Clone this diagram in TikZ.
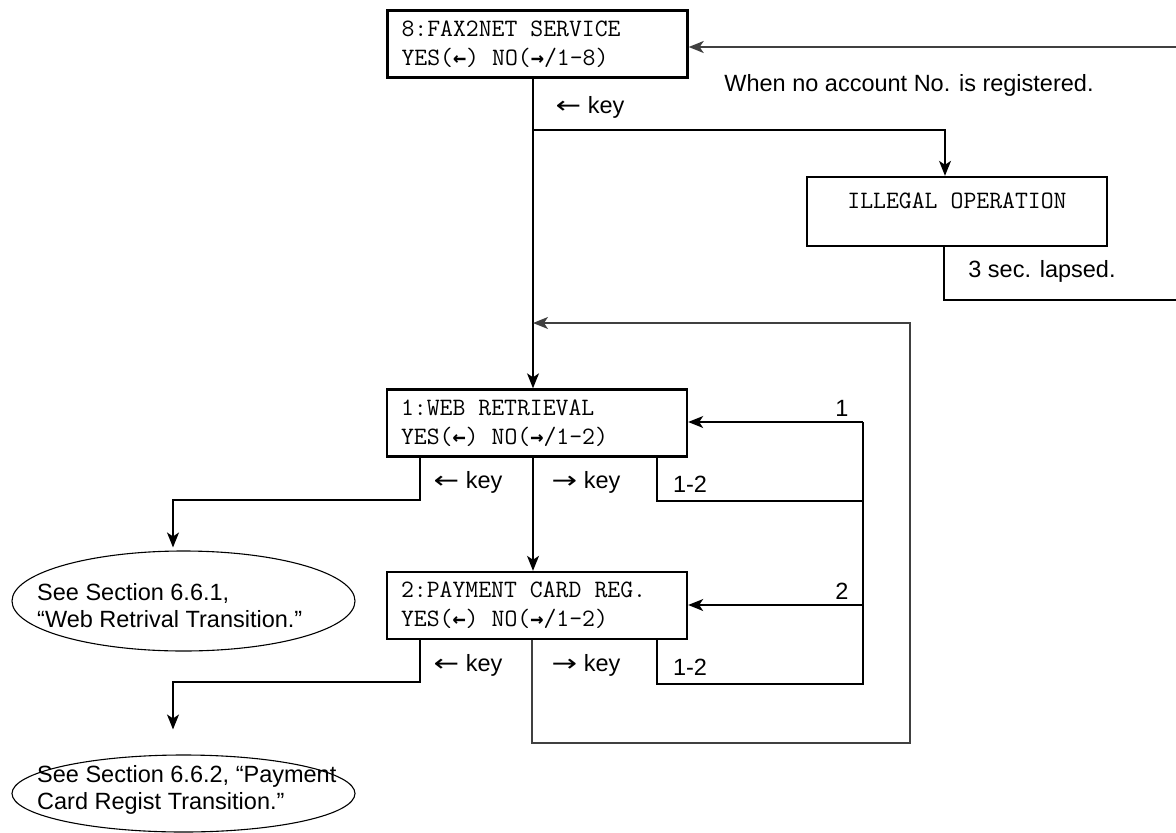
\documentclass[tikz,border=0pt]{standalone}
\usepackage{fontspec}
\setmainfont{Liberation Sans}
\newfontfamily\arrf{DejaVu Sans Mono}
\newfontfamily\arrs{DejaVu Sans}
\usetikzlibrary{arrows.meta,shapes.geometric}
\newcommand{\mla}{{\arrf\bfseries\fontsize{22}{29}\selectfont ←}}
\newcommand{\mra}{{\arrf\bfseries\fontsize{22}{29}\selectfont →}}
\newcommand{\sla}{\scalebox{1.3}[1]{\arrs ←}}
\newcommand{\sra}{\scalebox{1.3}[1]{\arrs →}}
\newcommand{\SP}{\hbox to 0.525em{}}
\tikzset{
  lcd/.style={draw, line width=2.4pt, rectangle, inner xsep=14pt, inner ysep=0pt,
    text width=272pt, align=left, minimum height=67pt,
    font=\ttfamily\fontsize{25}{29}\selectfont},
  conn/.style={line width=1.2pt},
  outer/.style={line width=1.6pt, draw=black!75},
  arr/.style={-{Stealth[length=15pt,width=12pt,inset=4pt]}},
  lbl/.style={inner sep=0pt, font=\fontsize{23.5}{27}\selectfont},
  oval/.style={draw, ellipse, line width=1.1pt, inner sep=0pt},
}
\begin{document}
\begin{tikzpicture}[x=1pt,y=-1pt]
\useasboundingbox (0,0) rectangle (1176,833);
% boxes
\node[lcd] (top) at (537.5,44) {8:FAX2NET\SP SERVICE\\YES(\mla)\SP NO(\mra/1-8)};
\node[lcd, text width=300pt, inner xsep=0pt, align=center, minimum width=300pt, minimum height=69pt]
  (ill) at (957,211.5) {\raisebox{3pt}[0pt][0pt]{ILLEGAL\SP OPERATION}};
\node[lcd] (web) at (537,423) {1:WEB\SP RETRIEVAL\\YES(\mla)\SP NO(\mra/1-2)};
\node[lcd] (pay) at (537,605.5) {2:PAYMENT\SP CARD\SP REG.\\YES(\mla)\SP NO(\mra/1-2)};
% ellipses
\node[oval, minimum width=343pt, minimum height=100pt] (e1) at (183.5,601) {};
\node[lbl, anchor=west, align=left] (e1t) at (37,606) {See Section 6.6.1,\\“Web Retrival Transition.”};
\node[oval, minimum width=343pt, minimum height=77pt] (e2) at (183.5,793.5) {};
\node[lbl, anchor=west, align=left] (e2t) at (37,790) {See Section 6.6.2, “Payment\\Card Regist Transition.”};
% coordinates
\coordinate (in1) at (1176,47);
\coordinate (m1) at (533,130);
\coordinate (b1) at (945,130);
\coordinate (s1) at (944,300);
\coordinate (s2) at (1176,300);
\coordinate (lp1) at (910,323);
\coordinate (lp2) at (910,743);
\coordinate (lp3) at (532,743);
\coordinate (wl) at (420,500);
\coordinate (a1) at (173,500);
\coordinate (pl) at (420,682);
\coordinate (a2) at (173,682);
\coordinate (q1) at (657,501);
\coordinate (q2) at (657,684);
\coordinate (r1) at (863,422);
\coordinate (r2) at (863,605);
\coordinate (r3) at (863,684);
% connectors
\draw[outer,arr] (in1) -- (in1 -| top.east);
\draw[conn,arr] (top.south -| m1) -- (web.north -| m1);
\draw[conn,arr] (m1) -- (b1) -- (b1 |- ill.north);
\draw[conn] (s1 |- ill.south) -- (s1) -- (s2);
\draw[outer,arr] (pay.south -| lp3) -- (lp3) -- (lp2) -- (lp1) -- (lp1 -| m1);
\draw[conn,arr] (web.south -| m1) -- (pay.north -| m1);
\draw[conn,arr,shorten >=3pt] (web.south -| wl) -- (wl) -- (a1) -- (a1 |- e1.north);
\draw[conn,arr,shorten >=25pt] (pay.south -| pl) -- (pl) -- (a2) -- (a2 |- e2.north);
\draw[conn] (web.south -| q1) -- (q1) -- (q1 -| r1);
\draw[conn,arr] (r1) -- (r1 -| web.east);
\draw[conn] (pay.south -| q2) -- (q2) -- (r3) -- (r1);
\draw[conn,arr] (r2) -- (r2 -| pay.east);
% labels
\node[lbl] (k0) at (590,107) {\sla\ key};
\node[lbl] (t1) at (909,85) {When no account No. is registered.};
\node[lbl] (t2) at (1042,271) {3 sec. lapsed.};
\node[lbl] (k1) at (468,482) {\sla\ key};
\node[lbl] (k2) at (586,482) {\sra\ key};
\node[lbl] (n1) at (690,484) {1-2};
\node[lbl] (o1) at (842,408) {1};
\node[lbl] (k3) at (468,665) {\sla\ key};
\node[lbl] (k4) at (586,665) {\sra\ key};
\node[lbl] (n2) at (690,667) {1-2};
\node[lbl] (o2) at (842,591) {2};
\end{tikzpicture}
\end{document}
